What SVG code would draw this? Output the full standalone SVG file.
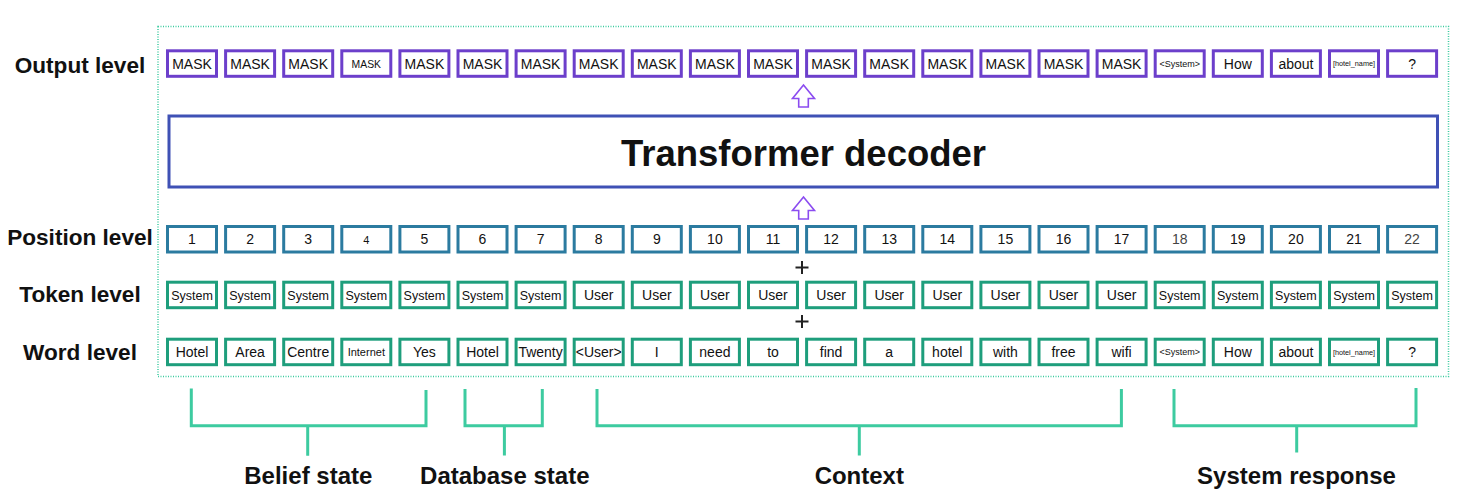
<svg xmlns="http://www.w3.org/2000/svg" width="1468" height="503" viewBox="0 0 1468 503">
<style>
  text { font-family: "Liberation Sans", Arial, sans-serif; fill: #111; }
  .lbl { font-size: 22.6px; font-weight: bold; text-anchor: middle; }
  .blbl { font-size: 24px; font-weight: bold; text-anchor: middle; }
  .bt { font-size: 14px; text-anchor: middle; }
  .sys { font-size: 12.5px; }
  .o rect { fill: #fff; stroke: #6C3FCB; stroke-width: 3; }
  .p rect { fill: #fff; stroke: #2B7BA0; stroke-width: 3; }
  .t rect { fill: #fff; stroke: #1E9E7C; stroke-width: 3; }
  .br { fill: none; stroke: #3DCBA0; stroke-width: 3; }
  .arrow { fill: #fff; stroke: #8B4CF0; stroke-width: 1.6; stroke-linejoin: miter; }
  .plus { stroke: #222; stroke-width: 2; }
</style>

<rect id="frame" x="158" y="26.5" width="1290.5" height="350" fill="none" stroke="#3DCBA0" stroke-width="1.5" stroke-dasharray="1 1.5"/>

<g id="labels">
  <text class="lbl" x="80" y="72.5">Output level</text>
  <text class="lbl" x="80" y="244.5">Position level</text>
  <text class="lbl" x="80" y="302">Token level</text>
  <text class="lbl" x="80" y="359.5">Word level</text>
</g>

<g id="output-row">
  <g id="out1" class="o"><rect x="167.5" y="50.8" width="49" height="25.5"/><text class="bt" x="192" y="68.5">MASK</text></g>
  <g id="out2" class="o"><rect x="225.6" y="50.8" width="49" height="25.5"/><text class="bt" x="250.1" y="68.5">MASK</text></g>
  <g id="out3" class="o"><rect x="283.7" y="50.8" width="49" height="25.5"/><text class="bt" x="308.2" y="68.5">MASK</text></g>
  <g id="out4" class="o"><rect x="341.8" y="50.8" width="49" height="25.5"/><text class="bt" x="366.3" y="67.5" style="font-size:10.4px">MASK</text></g>
  <g id="out5" class="o"><rect x="399.9" y="50.8" width="49" height="25.5"/><text class="bt" x="424.4" y="68.5">MASK</text></g>
  <g id="out6" class="o"><rect x="458" y="50.8" width="49" height="25.5"/><text class="bt" x="482.5" y="68.5">MASK</text></g>
  <g id="out7" class="o"><rect x="516.1" y="50.8" width="49" height="25.5"/><text class="bt" x="540.6" y="68.5">MASK</text></g>
  <g id="out8" class="o"><rect x="574.2" y="50.8" width="49" height="25.5"/><text class="bt" x="598.7" y="68.5">MASK</text></g>
  <g id="out9" class="o"><rect x="632.3" y="50.8" width="49" height="25.5"/><text class="bt" x="656.8" y="68.5">MASK</text></g>
  <g id="out10" class="o"><rect x="690.4" y="50.8" width="49" height="25.5"/><text class="bt" x="714.9" y="68.5">MASK</text></g>
  <g id="out11" class="o"><rect x="748.5" y="50.8" width="49" height="25.5"/><text class="bt" x="773" y="68.5">MASK</text></g>
  <g id="out12" class="o"><rect x="806.6" y="50.8" width="49" height="25.5"/><text class="bt" x="831.1" y="68.5">MASK</text></g>
  <g id="out13" class="o"><rect x="864.7" y="50.8" width="49" height="25.5"/><text class="bt" x="889.2" y="68.5">MASK</text></g>
  <g id="out14" class="o"><rect x="922.8" y="50.8" width="49" height="25.5"/><text class="bt" x="947.3" y="68.5">MASK</text></g>
  <g id="out15" class="o"><rect x="980.9" y="50.8" width="49" height="25.5"/><text class="bt" x="1005.4" y="68.5">MASK</text></g>
  <g id="out16" class="o"><rect x="1039" y="50.8" width="49" height="25.5"/><text class="bt" x="1063.5" y="68.5">MASK</text></g>
  <g id="out17" class="o"><rect x="1097.1" y="50.8" width="49" height="25.5"/><text class="bt" x="1121.6" y="68.5">MASK</text></g>
  <g id="out18" class="o"><rect x="1155.2" y="50.8" width="49" height="25.5"/><text class="bt" x="1179.7" y="66.8" style="font-size:9px">&lt;System&gt;</text></g>
  <g id="out19" class="o"><rect x="1213.3" y="50.8" width="49" height="25.5"/><text class="bt" x="1237.8" y="68.5">How</text></g>
  <g id="out20" class="o"><rect x="1271.4" y="50.8" width="49" height="25.5"/><text class="bt" x="1295.9" y="68.5">about</text></g>
  <g id="out21" class="o"><rect x="1329.5" y="50.8" width="49" height="25.5"/><text class="bt" x="1354" y="66.3" style="font-size:7.3px">[hotel_name]</text></g>
  <g id="out22" class="o"><rect x="1387.6" y="50.8" width="49" height="25.5"/><text class="bt" x="1412.1" y="68.5">?</text></g>
</g>

<g id="decoder">
  <rect x="169" y="116" width="1268.5" height="71" fill="#fff" stroke="#3F51B5" stroke-width="3"/>
  <text x="803.5" y="166" style="font-size:36.5px;font-weight:bold;text-anchor:middle">Transformer decoder</text>
</g>

<g id="position-row">
  <g id="pos1" class="p"><rect x="167.5" y="226.5" width="49" height="25.5"/><text class="bt" x="192" y="244.3">1</text></g>
  <g id="pos2" class="p"><rect x="225.6" y="226.5" width="49" height="25.5"/><text class="bt" x="250.1" y="244.3">2</text></g>
  <g id="pos3" class="p"><rect x="283.7" y="226.5" width="49" height="25.5"/><text class="bt" x="308.2" y="244.3">3</text></g>
  <g id="pos4" class="p"><rect x="341.8" y="226.5" width="49" height="25.5"/><text class="bt" x="366.3" y="243.5" style="font-size:11px">4</text></g>
  <g id="pos5" class="p"><rect x="399.9" y="226.5" width="49" height="25.5"/><text class="bt" x="424.4" y="244.3">5</text></g>
  <g id="pos6" class="p"><rect x="458" y="226.5" width="49" height="25.5"/><text class="bt" x="482.5" y="244.3">6</text></g>
  <g id="pos7" class="p"><rect x="516.1" y="226.5" width="49" height="25.5"/><text class="bt" x="540.6" y="244.3">7</text></g>
  <g id="pos8" class="p"><rect x="574.2" y="226.5" width="49" height="25.5"/><text class="bt" x="598.7" y="244.3">8</text></g>
  <g id="pos9" class="p"><rect x="632.3" y="226.5" width="49" height="25.5"/><text class="bt" x="656.8" y="244.3">9</text></g>
  <g id="pos10" class="p"><rect x="690.4" y="226.5" width="49" height="25.5"/><text class="bt" x="714.9" y="244.3">10</text></g>
  <g id="pos11" class="p"><rect x="748.5" y="226.5" width="49" height="25.5"/><text class="bt" x="773" y="244.3">11</text></g>
  <g id="pos12" class="p"><rect x="806.6" y="226.5" width="49" height="25.5"/><text class="bt" x="831.1" y="244.3">12</text></g>
  <g id="pos13" class="p"><rect x="864.7" y="226.5" width="49" height="25.5"/><text class="bt" x="889.2" y="244.3">13</text></g>
  <g id="pos14" class="p"><rect x="922.8" y="226.5" width="49" height="25.5"/><text class="bt" x="947.3" y="244.3">14</text></g>
  <g id="pos15" class="p"><rect x="980.9" y="226.5" width="49" height="25.5"/><text class="bt" x="1005.4" y="244.3">15</text></g>
  <g id="pos16" class="p"><rect x="1039" y="226.5" width="49" height="25.5"/><text class="bt" x="1063.5" y="244.3">16</text></g>
  <g id="pos17" class="p"><rect x="1097.1" y="226.5" width="49" height="25.5"/><text class="bt" x="1121.6" y="244.3">17</text></g>
  <g id="pos18" class="p"><rect x="1155.2" y="226.5" width="49" height="25.5"/><text class="bt" x="1179.7" y="244.3" style="fill:#444">18</text></g>
  <g id="pos19" class="p"><rect x="1213.3" y="226.5" width="49" height="25.5"/><text class="bt" x="1237.8" y="244.3">19</text></g>
  <g id="pos20" class="p"><rect x="1271.4" y="226.5" width="49" height="25.5"/><text class="bt" x="1295.9" y="244.3">20</text></g>
  <g id="pos21" class="p"><rect x="1329.5" y="226.5" width="49" height="25.5"/><text class="bt" x="1354" y="244.3">21</text></g>
  <g id="pos22" class="p"><rect x="1387.6" y="226.5" width="49" height="25.5"/><text class="bt" x="1412.1" y="244.3" style="fill:#444">22</text></g>
</g>

<g id="token-row">
  <g id="tok1" class="t"><rect x="167.5" y="282.2" width="49" height="25.5"/><text class="bt sys" x="192" y="299.5">System</text></g>
  <g id="tok2" class="t"><rect x="225.6" y="282.2" width="49" height="25.5"/><text class="bt sys" x="250.1" y="299.5">System</text></g>
  <g id="tok3" class="t"><rect x="283.7" y="282.2" width="49" height="25.5"/><text class="bt sys" x="308.2" y="299.5">System</text></g>
  <g id="tok4" class="t"><rect x="341.8" y="282.2" width="49" height="25.5"/><text class="bt sys" x="366.3" y="299.5">System</text></g>
  <g id="tok5" class="t"><rect x="399.9" y="282.2" width="49" height="25.5"/><text class="bt sys" x="424.4" y="299.5">System</text></g>
  <g id="tok6" class="t"><rect x="458" y="282.2" width="49" height="25.5"/><text class="bt sys" x="482.5" y="299.5">System</text></g>
  <g id="tok7" class="t"><rect x="516.1" y="282.2" width="49" height="25.5"/><text class="bt sys" x="540.6" y="299.5">System</text></g>
  <g id="tok8" class="t"><rect x="574.2" y="282.2" width="49" height="25.5"/><text class="bt" x="598.7" y="299.5">User</text></g>
  <g id="tok9" class="t"><rect x="632.3" y="282.2" width="49" height="25.5"/><text class="bt" x="656.8" y="299.5">User</text></g>
  <g id="tok10" class="t"><rect x="690.4" y="282.2" width="49" height="25.5"/><text class="bt" x="714.9" y="299.5">User</text></g>
  <g id="tok11" class="t"><rect x="748.5" y="282.2" width="49" height="25.5"/><text class="bt" x="773" y="299.5">User</text></g>
  <g id="tok12" class="t"><rect x="806.6" y="282.2" width="49" height="25.5"/><text class="bt" x="831.1" y="299.5">User</text></g>
  <g id="tok13" class="t"><rect x="864.7" y="282.2" width="49" height="25.5"/><text class="bt" x="889.2" y="299.5">User</text></g>
  <g id="tok14" class="t"><rect x="922.8" y="282.2" width="49" height="25.5"/><text class="bt" x="947.3" y="299.5">User</text></g>
  <g id="tok15" class="t"><rect x="980.9" y="282.2" width="49" height="25.5"/><text class="bt" x="1005.4" y="299.5">User</text></g>
  <g id="tok16" class="t"><rect x="1039" y="282.2" width="49" height="25.5"/><text class="bt" x="1063.5" y="299.5">User</text></g>
  <g id="tok17" class="t"><rect x="1097.1" y="282.2" width="49" height="25.5"/><text class="bt" x="1121.6" y="299.5">User</text></g>
  <g id="tok18" class="t"><rect x="1155.2" y="282.2" width="49" height="25.5"/><text class="bt sys" x="1179.7" y="299.5">System</text></g>
  <g id="tok19" class="t"><rect x="1213.3" y="282.2" width="49" height="25.5"/><text class="bt sys" x="1237.8" y="299.5">System</text></g>
  <g id="tok20" class="t"><rect x="1271.4" y="282.2" width="49" height="25.5"/><text class="bt sys" x="1295.9" y="299.5">System</text></g>
  <g id="tok21" class="t"><rect x="1329.5" y="282.2" width="49" height="25.5"/><text class="bt sys" x="1354" y="299.5">System</text></g>
  <g id="tok22" class="t"><rect x="1387.6" y="282.2" width="49" height="25.5"/><text class="bt sys" x="1412.1" y="299.5">System</text></g>
</g>

<g id="word-row">
  <g id="word1" class="t"><rect x="167.5" y="339.2" width="49" height="25.5"/><text class="bt" x="192" y="357">Hotel</text></g>
  <g id="word2" class="t"><rect x="225.6" y="339.2" width="49" height="25.5"/><text class="bt" x="250.1" y="357">Area</text></g>
  <g id="word3" class="t"><rect x="283.7" y="339.2" width="49" height="25.5"/><text class="bt" x="308.2" y="357">Centre</text></g>
  <g id="word4" class="t"><rect x="341.8" y="339.2" width="49" height="25.5"/><text class="bt" x="366.3" y="356" style="font-size:11px">Internet</text></g>
  <g id="word5" class="t"><rect x="399.9" y="339.2" width="49" height="25.5"/><text class="bt" x="424.4" y="357">Yes</text></g>
  <g id="word6" class="t"><rect x="458" y="339.2" width="49" height="25.5"/><text class="bt" x="482.5" y="357">Hotel</text></g>
  <g id="word7" class="t"><rect x="516.1" y="339.2" width="49" height="25.5"/><text class="bt" x="540.6" y="357">Twenty</text></g>
  <g id="word8" class="t"><rect x="574.2" y="339.2" width="49" height="25.5"/><text class="bt" x="598.7" y="357">&lt;User&gt;</text></g>
  <g id="word9" class="t"><rect x="632.3" y="339.2" width="49" height="25.5"/><text class="bt" x="656.8" y="357">I</text></g>
  <g id="word10" class="t"><rect x="690.4" y="339.2" width="49" height="25.5"/><text class="bt" x="714.9" y="357">need</text></g>
  <g id="word11" class="t"><rect x="748.5" y="339.2" width="49" height="25.5"/><text class="bt" x="773" y="357">to</text></g>
  <g id="word12" class="t"><rect x="806.6" y="339.2" width="49" height="25.5"/><text class="bt" x="831.1" y="357">find</text></g>
  <g id="word13" class="t"><rect x="864.7" y="339.2" width="49" height="25.5"/><text class="bt" x="889.2" y="357">a</text></g>
  <g id="word14" class="t"><rect x="922.8" y="339.2" width="49" height="25.5"/><text class="bt" x="947.3" y="357">hotel</text></g>
  <g id="word15" class="t"><rect x="980.9" y="339.2" width="49" height="25.5"/><text class="bt" x="1005.4" y="357">with</text></g>
  <g id="word16" class="t"><rect x="1039" y="339.2" width="49" height="25.5"/><text class="bt" x="1063.5" y="357">free</text></g>
  <g id="word17" class="t"><rect x="1097.1" y="339.2" width="49" height="25.5"/><text class="bt" x="1121.6" y="357">wifi</text></g>
  <g id="word18" class="t"><rect x="1155.2" y="339.2" width="49" height="25.5"/><text class="bt" x="1179.7" y="355.2" style="font-size:9px">&lt;System&gt;</text></g>
  <g id="word19" class="t"><rect x="1213.3" y="339.2" width="49" height="25.5"/><text class="bt" x="1237.8" y="357">How</text></g>
  <g id="word20" class="t"><rect x="1271.4" y="339.2" width="49" height="25.5"/><text class="bt" x="1295.9" y="357">about</text></g>
  <g id="word21" class="t"><rect x="1329.5" y="339.2" width="49" height="25.5"/><text class="bt" x="1354" y="354.7" style="font-size:7.3px">[hotel_name]</text></g>
  <g id="word22" class="t"><rect x="1387.6" y="339.2" width="49" height="25.5"/><text class="bt" x="1412.1" y="357">?</text></g>
</g>

<g id="connectors">
  <path class="arrow" d="M803.5,85 L814.5,98.5 L808.3,98.5 L808.3,107 L798.7,107 L798.7,98.5 L792.5,98.5 Z"/>
  <path class="arrow" d="M803.5,197 L814.5,210.5 L808.3,210.5 L808.3,219 L798.7,219 L798.7,210.5 L792.5,210.5 Z"/>
  <path class="plus" d="M795.5,267.5 H808.5 M802,261 V274"/>
  <path class="plus" d="M795.5,321.5 H808.5 M802,315 V328"/>
</g>

<g id="brackets">
  <g id="belief-state">
    <path class="br" d="M191.3,388.5 V425.7 H426 V390 M307.7,425.7 V455.7"/>
    <text class="blbl" x="308.3" y="484">Belief state</text>
  </g>
  <g id="database-state">
    <path class="br" d="M465,389 V425.7 H542.3 V389 M504.4,425.7 V455.5"/>
    <text class="blbl" x="504.8" y="484">Database state</text>
  </g>
  <g id="context">
    <path class="br" d="M597,389 V425.7 H1121.4 V389 M859.3,425.7 V455.5"/>
    <text class="blbl" x="859.3" y="484">Context</text>
  </g>
  <g id="system-response">
    <path class="br" d="M1174,389 V425.7 H1416 V388 M1296.7,425.7 V452.5"/>
    <text class="blbl" x="1296.5" y="484">System response</text>
  </g>
</g>
</svg>
